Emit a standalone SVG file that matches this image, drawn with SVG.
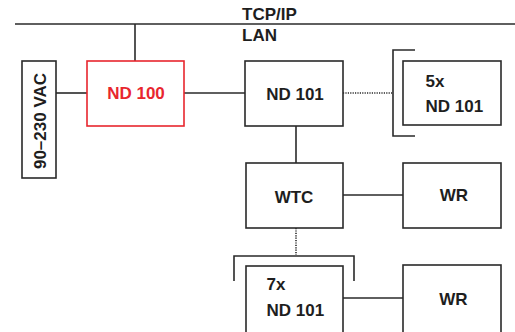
<svg xmlns="http://www.w3.org/2000/svg" width="515" height="332" viewBox="0 0 515 332">
<style>
  .box { fill: #ffffff; stroke: #2a2a2a; stroke-width: 1.6; }
  .red { fill: #ffffff; stroke: #e8262e; stroke-width: 1.6; }
  .ln { fill: none; stroke: #2a2a2a; stroke-width: 1.6; }
  .dot { fill: none; stroke: #2a2a2a; stroke-width: 1.6; stroke-dasharray: 1.2 1.2; }
  text { font-family: "Liberation Sans", Arial, sans-serif; font-weight: bold; font-size: 17px; fill: #1e1e1e; }
  .c { text-anchor: middle; }
  .rt { fill: #e8262e; }
</style>
<rect width="515" height="332" fill="#ffffff"/>
<g id="connectors">
  <line class="ln" x1="15" y1="24" x2="515" y2="24"/>
  <line class="ln" x1="135" y1="24" x2="135" y2="61"/>
  <line class="ln" x1="56" y1="93" x2="87" y2="93"/>
  <line class="ln" x1="184" y1="93" x2="245" y2="93"/>
  <line class="dot" x1="343" y1="93" x2="392" y2="93"/>
  <line class="ln" x1="296" y1="126" x2="296" y2="163"/>
  <line class="ln" x1="343" y1="195" x2="403" y2="195"/>
  <line class="dot" x1="296" y1="228" x2="296" y2="255"/>
  <line class="ln" x1="343" y1="298" x2="403" y2="298"/>
  <polyline class="ln" points="415,50 393,50 393,136 415,136"/>
  <polyline class="ln" points="234,281 234,256 354,256 354,281"/>
</g>
<g id="lan">
  <text x="242" y="20">TCP/IP</text>
  <text x="242" y="41">LAN</text>
</g>
<g id="vac">
  <rect class="box" x="22" y="61" width="34" height="117"/>
  <text class="c" transform="translate(45.5,121) rotate(-90)">90–230 VAC</text>
</g>
<g id="nd100">
  <rect class="red" x="87" y="61" width="97" height="65"/>
  <text class="c rt" x="136" y="99">ND 100</text>
</g>
<g id="nd101">
  <rect class="box" x="245" y="61" width="98" height="65"/>
  <text class="c" x="295" y="100">ND 101</text>
</g>
<g id="nd101x5">
  <rect class="box" x="403" y="61" width="98" height="64"/>
  <text x="425.5" y="87">5x</text>
  <text x="425.5" y="112">ND 101</text>
</g>
<g id="wtc">
  <rect class="box" x="246" y="163" width="97" height="65"/>
  <text class="c" x="294" y="203">WTC</text>
</g>
<g id="wr1">
  <rect class="box" x="403" y="163" width="98" height="65"/>
  <text class="c" x="454" y="201">WR</text>
</g>
<g id="nd101x7">
  <rect class="box" x="246" y="266" width="97" height="70"/>
  <text x="266.5" y="290">7x</text>
  <text x="266.5" y="316">ND 101</text>
</g>
<g id="wr2">
  <rect class="box" x="403" y="265" width="98" height="71"/>
  <text class="c" x="453.5" y="305">WR</text>
</g>
</svg>
